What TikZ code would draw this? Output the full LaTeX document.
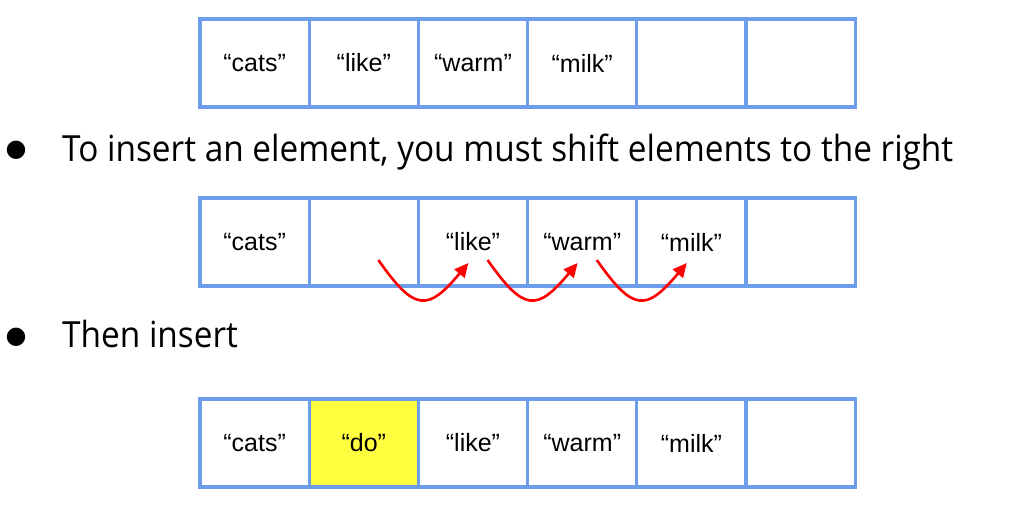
\documentclass[tikz,border=0pt]{standalone}
\usepackage{fontspec}
\setmainfont{Liberation Sans}
\newfontfamily\slidefont[FakeStretch=0.927]{Open Sans}
\newfontfamily\symbfont{DejaVu Sans}
\usetikzlibrary{arrows.meta}
\definecolor{cellblue}{RGB}{109,158,235}
\definecolor{cellyellow}{RGB}{255,255,64}
\tikzset{
  cell/.style={draw=cellblue, line width=3.2pt, minimum width=109.2pt, minimum height=88pt,
    inner sep=0pt, outer sep=0pt, font=\fontsize{25}{30}\selectfont},
  bullettext/.style={font=\slidefont\fontsize{36}{43}\selectfont, anchor=base west, inner sep=0pt},
  bulletdot/.style={font=\symbfont\fontsize{24}{28}\selectfont, inner sep=0pt},
  shiftarrow/.style={-{Triangle[length=14pt,width=13pt]}, red, line width=2.6pt}
}
\begin{document}
\begin{tikzpicture}[x=1pt,y=1pt]
    \useasboundingbox (0,0) rectangle (1012,-511);
    \foreach \w [count=\i] in {“cats”,“like”,“warm”,“milk”,{},{}}
    \node[cell, fill=white] (a\i) at (145.4+109.2*\i,-63) {\w};
    \node[bulletdot] (dot1) at (16,-150) {●};
    \node[bullettext] (shifttext) at (62,-161) {To insert an element, you must shift elements to the right};
    \foreach \w [count=\i] in {“cats”,{},“like”,“warm”,“milk”,{}}
    \node[cell, fill=white] (b\i) at (145.4+109.2*\i,-242) {\w};
    \foreach \p/\q in {2/3,3/4,4/5}
    \draw[shiftarrow] ([shift={(-40pt,26pt)}]b\p.south east) to[out=-55,in=-130,looseness=1.8] ([shift={(50pt,23pt)}]b\q.south west);
    \node[bulletdot] (dot2) at (16,-337) {●};
    \node[bullettext] (inserttext) at (62,-347) {Then insert};
    \foreach \w/\f [count=\i] in {“cats”/white,“do”/cellyellow,“like”/white,“warm”/white,“milk”/white,{}/white}
    \node[cell, fill=\f] (c\i) at (145.4+109.2*\i,-443) {\w};
\end{tikzpicture}
\end{document}
